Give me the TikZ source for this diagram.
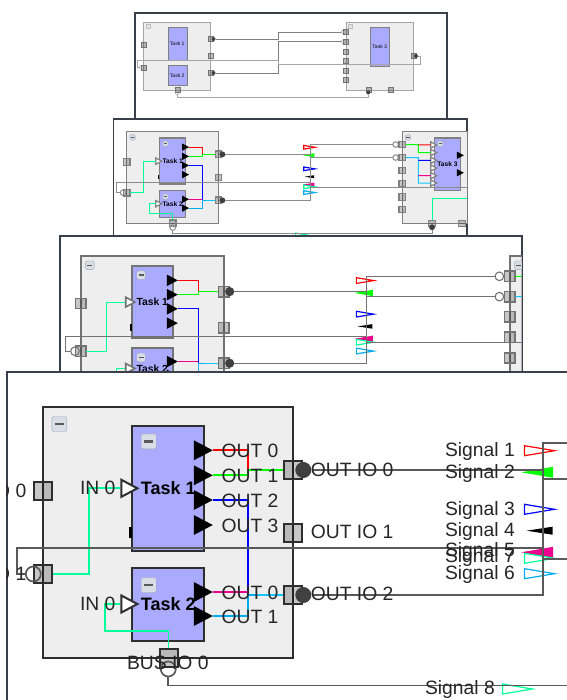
\documentclass[tikz,border=0pt]{standalone}
\usepackage{fontspec}
\setmainfont{Liberation Sans}
\usetikzlibrary{shapes.geometric}
\definecolor{taskblue}{HTML}{AAAAFF}
\definecolor{blockgray}{HTML}{EEEEEE}
\definecolor{framegray}{HTML}{3A404A}
\definecolor{springwire}{HTML}{00FF99}
\definecolor{mixwire}{HTML}{10C8FF}
\definecolor{btnline}{HTML}{9AA8B8}
\definecolor{btnfill}{HTML}{D8DDE6}
\tikzset{
  panelbox/.style={draw=framegray,fill=white,line width=1.8pt},
  blockbox/.style={draw,fill=blockgray,inner sep=0pt},
  taskbox/.style={draw,fill=taskblue,inner sep=0pt,font=\fontsize{18}{18}\selectfont\bfseries},
  minusbtn/.style={rectangle,rounded corners=2pt,draw=btnline,fill=btnfill,text=black!65,minimum size=15pt,inner sep=0pt},
  portbox/.style={draw,fill=black,fill opacity=.22,minimum size=18pt,inner sep=0pt},
  ringnode/.style={circle,draw,minimum size=15pt,inner sep=0pt},
  dotnode/.style={circle,fill=black!75,minimum size=16pt,inner sep=0pt},
  pinout/.style={isosceles triangle,isosceles triangle stretches,inner sep=0pt,fill=black,minimum height=19pt,minimum width=20pt,anchor=apex},
  pinin/.style={isosceles triangle,isosceles triangle stretches,inner sep=0pt,draw,fill=white,minimum height=16pt,minimum width=17pt,anchor=apex},
  sigopen/.style={isosceles triangle,isosceles triangle stretches,inner sep=0pt,draw=#1,fill=white,line width=1.2pt,minimum height=30pt,minimum width=10pt,anchor=apex},
  sigfull/.style={isosceles triangle,isosceles triangle stretches,inner sep=0pt,fill=#1,shape border rotate=180,minimum height=32pt,minimum width=11pt,anchor=apex},
  marknode/.style={fill=black,minimum width=3pt,minimum height=11pt,inner sep=0pt},
  portlabel/.style={font=\fontsize{19.3}{20}\selectfont,text=black!85,inner sep=0pt},
  tinyport/.style={draw=black!55,fill=black,fill opacity=.25,minimum size=5pt,inner sep=0pt},
  tinytask/.style={draw=black!50,fill=taskblue,inner sep=0pt,font=\fontsize{5}{5}\selectfont},
  tinydot/.style={circle,fill=black!75,minimum size=4pt,inner sep=0pt},
  tinyring/.style={circle,draw=black!50,minimum size=4pt,inner sep=0pt},
  tinybtn/.style={draw=black!25,fill=black!10,minimum size=4pt,inner sep=0pt}
}
\newcommand{\taskscheme}[4]{
  \tikzset{schemeline/.style={line width=#1,draw=#2},boxline/.style={line width=#3,draw=#4},colorline/.style={line width=#1}}
  \node[blockbox,boxline,minimum width=250pt,minimum height=251pt] (blockA) at (168.3,532.8) {};
  \node[blockbox,boxline,minimum width=250pt,minimum height=251pt] (blockB) at (917,532.8) {};
  \node[minusbtn] (btnA) at (59.3,424) {\rule{9pt}{2.5pt}};
  \node[minusbtn] (btnB) at (808,424) {\rule{9pt}{2.5pt}};
  \node[taskbox,boxline,minimum width=71.7pt,minimum height=125pt] (taskA) at (168.2,488.2) {Task 1};
  \node[taskbox,boxline,minimum width=71.7pt,minimum height=72.4pt] (taskB) at (168.2,604.5) {Task 2};
  \node[taskbox,boxline,minimum width=72pt,minimum height=142pt] (taskC) at (915,496.5) {Task 3};
  \node[minusbtn] (btnTaskA) at (148.7,441.3) {\rule{9pt}{2.5pt}};
  \node[minusbtn] (btnTaskB) at (148.7,585) {\rule{9pt}{2.5pt}};
  \node[minusbtn] (btnTaskC) at (895.5,441.3) {\rule{9pt}{2.5pt}};
  \node[marknode] (markA) at (130.7,532.5) {};
  \node[pinin,boxline] (inA) at (140,488.3) {};
  \node[pinin,boxline] (inB) at (140,604) {};
  \foreach \n/\y in {1/444.5,2/465,3/486,4/507,5/528,6/548}
    \node[pinin,boxline] (inC\n) at (887,\y) {};
  \node[pinout] (outA0) at (213.3,450.3) {};
  \node[pinout] (outA1) at (213.3,475.3) {};
  \node[pinout] (outA2) at (213.3,500) {};
  \node[pinout] (outA3) at (213.3,525) {};
  \node[pinout] (outB0) at (213.3,592) {};
  \node[pinout] (outB1) at (213.3,616) {};
  \node[pinout] (outC0) at (960,472.5) {};
  \node[pinout] (outC1) at (960,520) {};
  \node[portbox,boxline] (ioA) at (43.3,490.7) {};
  \node[portbox,boxline] (ioB) at (43.3,574) {};
  \node[portbox,boxline] (ioBus) at (168.5,657.5) {};
  \node[portbox,boxline] (ioOutA) at (292.7,470) {};
  \node[portbox,boxline] (ioOutB) at (292.7,532.7) {};
  \node[portbox,boxline] (ioOutC) at (292.7,595) {};
  \foreach \n/\y in {1/443.3,2/478.7,3/513.8,4/549.7,5/585.8,6/620}
    \node[portbox,boxline] (ioIn\n) at (792,\y) {};
  \node[portbox,boxline] (ioLow) at (873,658) {};
  \node[portbox,boxline] (ioLowB) at (955,658) {};
  \node[ringnode,schemeline] (ringB) at (33.3,574) {};
  \node[ringnode,schemeline] (ringBus) at (168.3,669) {};
  \node[ringnode,schemeline] (ringIn1) at (774,443.3) {};
  \node[ringnode,schemeline] (ringIn2) at (774,478.7) {};
  \node[dotnode] (dotA) at (303.3,470) {};
  \node[dotnode] (dotC) at (303.3,595) {};
  \node[dotnode] (dotLow) at (873,668) {};
  \node[sigopen=red] (sig1) at (556,450.7) {};
  \node[sigfull=green] (sig2) at (520.7,472.3) {};
  \node[sigopen=blue] (sig3) at (556,509.3) {};
  \node[sigfull=black,minimum height=26pt,minimum width=8pt] (sig4) at (526,530.7) {};
  \node[sigfull=magenta] (sig5) at (520.7,552.3) {};
  \node[sigopen=springwire] (sig7) at (556,558.3) {};
  \node[sigopen=cyan] (sig6) at (556,573.7) {};
  \node[sigopen=springwire] (sig8) at (534,689) {};
  \coordinate (jog) at (542.7,547.7);
  \coordinate (loopleft) at (16.7,547.7);
  \coordinate (mixstart) at (258,595);
  \draw[colorline,red] (outA0.apex) -- ++(35,0) |- (ioOutA.west);
  \draw[colorline,green] (outA1.apex) -- ++(35,0) |- (ioOutA.west);
  \draw[colorline,blue] (outA2.apex) -- ++(35,0) |- (ioOutC.west);
  \draw[colorline,magenta] (outB0.apex) -- ++(35,0);
  \draw[colorline,cyan] (outB1.apex) -- ++(35,0) |- (ioOutC.west);
  \draw[colorline,mixwire] (mixstart) -- (ioOutC.west);
  \draw[colorline,springwire] (ioB.east) -- ++(36,0) |- (inA.lower side);
  \draw[colorline,springwire] (inB.lower side) -| (105.3,631) -| (ioBus.north);
  \draw[colorline,green] (ioIn1.east) -| (835.7,465) -- (inC2.lower side);
  \draw[colorline,red] (835.7,444.5) -- (inC1.lower side);
  \draw[colorline,mixwire] (ioIn2.east) -| (835.7,548) -- (inC6.lower side);
  \draw[colorline,blue] (835.7,486) -- (inC3.lower side);
  \draw[colorline,magenta] (835.7,528) -- (inC5.lower side);
  \draw[colorline,springwire] (ioLow.north) |- (1000,589);
  \draw[schemeline] (dotA.east) -| (jog);
  \draw[schemeline] (dotC.east) -| (jog);
  \draw[schemeline] (jog) |- (ringIn1.west);
  \draw[schemeline] (jog) |- (ringIn2.west);
  \draw[schemeline] (ringB.west) -| (loopleft) -- (jog) -- ++(0,11.6) -- ++(460,0);
  \draw[schemeline] (ringBus.south) -- ++(0,8.2) -| (dotLow.south);
}
\begin{document}
\begin{tikzpicture}[x=1pt,y=-1pt]
  \useasboundingbox (0,0) rectangle (566,700);
  \draw[panelbox] (135,13) rectangle (447,125);
  \begin{scope}
    \clip (135,13) rectangle (447,125);
    \node[blockbox,draw=black!35,line width=1pt,minimum width=67.3pt,minimum height=67.7pt] (tinyA) at (177.3,56.2) {};
    \node[blockbox,draw=black!35,line width=1pt,minimum width=67.3pt,minimum height=67.7pt] (tinyB) at (379.7,56.2) {};
    \node[tinybtn] (tinyBtnA) at (148,26.5) {};
    \node[tinybtn] (tinyBtnB) at (350.5,26.5) {};
    \node[tinytask,minimum width=19pt,minimum height=33.7pt] (tinyTask1) at (177.2,43.8) {Task 1};
    \node[tinytask,minimum width=19pt,minimum height=19.6pt] (tinyTask2) at (177.2,75.5) {Task 2};
    \node[tinytask,minimum width=19.3pt,minimum height=39pt] (tinyTask3) at (379.7,46.5) {Task 3};
    \node[tinyport] (tinyIn) at (144,44.7) {};
    \node[tinyport] (tinyLoop) at (143.7,67.3) {};
    \node[tinyport] (tinyOut1) at (211,39) {};
    \node[tinyport] (tinyOut2) at (211,56) {};
    \node[tinyport] (tinyOut3) at (211,73) {};
    \node[tinyport] (tinyBus) at (177.3,90) {};
    \foreach \n/\y in {1/32,2/41.7,3/51.3,4/60.7,5/70.3,6/80}
      \node[tinyport] (tinyRight\n) at (346,\y) {};
    \node[tinyport] (tinyBack) at (413.7,56) {};
    \node[tinyport] (tinyLow1) at (368.3,90) {};
    \node[tinyport] (tinyLow2) at (391,90) {};
    \node[tinydot] (tinyDot1) at (213.5,39) {};
    \node[tinydot] (tinyDot3) at (213.5,73) {};
    \node[tinydot] (tinyDotBack) at (416,56) {};
    \node[tinydot] (tinyDotLow) at (368.3,92.5) {};
    \node[tinyring] (tinyRing) at (141.5,67.3) {};
    \node[tinyring] (tinyRingBus) at (177.3,92.5) {};
    \node[tinyring] (tinyRing1) at (343.5,32) {};
    \node[tinyring] (tinyRing2) at (343.5,41.7) {};
    \draw[black!50] (tinyDot1.east) -| (278.3,32) -- (tinyRing1.west);
    \draw[black!50] (tinyDot3.east) -| (278.3,41.7) -- (tinyRing2.west);
    \draw[black!35] (tinyDotBack.east) -| (420.5,64) -| (278.3,60) -| (136.7,67.3) -- (tinyRing.west);
    \draw[black!35] (tinyRingBus.south) |- (368.3,97.3) -- (tinyDotLow.south);
  \end{scope}
  \draw[panelbox] (113.5,119) rectangle (467.3,245);
  \begin{scope}
    \clip (113.5,119) rectangle (467.3,245);
    \begin{scope}[shift={(126.7,131.3)},scale=.368,shift={(-43.3,-407.3)},transform shape]
      \taskscheme{1pt}{black!45}{1.2pt}{black!50}
    \end{scope}
  \end{scope}
  \draw[panelbox] (60,236) rectangle (521.7,385);
  \begin{scope}
    \clip (60,236) rectangle (521.7,385);
    \begin{scope}[shift={(80.7,255.7)},scale=.573,shift={(-43.3,-407.3)},transform shape]
      \taskscheme{1.1pt}{black!55}{1.6pt}{black!55}
    \end{scope}
  \end{scope}
  \draw[panelbox] (6.7,372.3) rectangle (575,710);
  \begin{scope}
    \clip (6.7,372.3) rectangle (575,710);
    \taskscheme{1.7pt}{black!65}{2pt}{black!82}
    \node[portlabel,anchor=east] (labelInA) at (26.5,490.5) {IN IO 0};
    \node[portlabel,anchor=east] (labelInB) at (26.5,574) {IN IO 1};
    \node[portlabel] (labelTaskAIn) at (97.7,488.3) {IN 0};
    \node[portlabel] (labelTaskBIn) at (97.7,604) {IN 0};
    \foreach \n/\y in {0/451,1/476,2/500.7,3/525.7}
      \node[portlabel] (labelAOut\n) at (250,\y) {OUT \n};
    \foreach \n/\y in {0/592.7,1/616.7}
      \node[portlabel] (labelBOut\n) at (250,\y) {OUT \n};
    \foreach \n/\y in {0/470,1/531.7,2/594.3}
      \node[portlabel,anchor=west] (labelIo\n) at (310.7,\y) {OUT IO \n};
    \node[portlabel] (labelBus) at (167.8,663.3) {BUS IO 0};
    \foreach \n/\y in {1/452,2/473.7,3/510.3,4/532,5/552,7/558,6/574.7}
      \node[portlabel,anchor=east] (labelSig\n) at (515,\y) {Signal \n};
    \node[portlabel,anchor=east] (labelSig8) at (495,690) {Signal 8};
  \end{scope}
\end{tikzpicture}
\end{document}
